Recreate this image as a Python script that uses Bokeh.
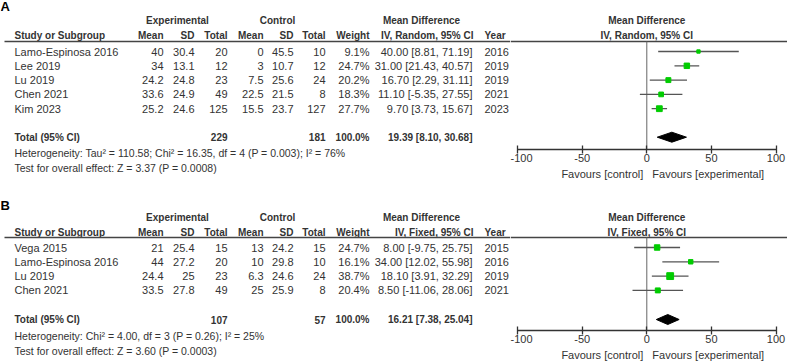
from bokeh.plotting import figure
from bokeh.models import ColumnDataSource, Range1d, LinearAxis, FixedTicker
from bokeh.layouts import column, row
from bokeh.embed import file_html
from bokeh.resources import INLINE
from bokeh.core.properties import value

# ---------------- Panel A data ----------------
studies_a = ["Lamo-Espinosa 2016", "Lee 2019", "Lu 2019", "Chen 2021", "Kim 2023"]
exp_mean_a = [40, 34, 24.2, 33.6, 25.2]
exp_sd_a = [30.4, 13.1, 24.8, 24.9, 24.6]
exp_n_a = [20, 12, 23, 49, 125]
ctl_mean_a = [0, 3, 7.5, 22.5, 15.5]
ctl_sd_a = [45.5, 10.7, 25.6, 21.5, 23.7]
ctl_n_a = [10, 12, 24, 8, 127]
weight_a = [9.1, 24.7, 20.2, 18.3, 27.7]
md_a = [40.00, 31.00, 16.70, 11.10, 9.70]
lo_a = [8.81, 21.43, 2.29, -5.35, 3.73]
hi_a = [71.19, 40.57, 31.11, 27.55, 15.67]
year_a = [2016, 2019, 2019, 2021, 2023]
total_exp_n_a = 229
total_ctl_n_a = 181
total_weight_a = 100.0
total_md_a = [8.10, 19.39, 30.68]  # lower, estimate, upper
method_a = "IV, Random, 95% CI"
het_a = "Heterogeneity: Tau\u00b2 = 110.58; Chi\u00b2 = 16.35, df = 4 (P = 0.003); I\u00b2 = 76%"
test_a = "Test for overall effect: Z = 3.37 (P = 0.0008)"

# ---------------- Panel B data ----------------
studies_b = ["Vega 2015", "Lamo-Espinosa 2016", "Lu 2019", "Chen 2021"]
exp_mean_b = [21, 44, 24.4, 33.5]
exp_sd_b = [25.4, 27.2, 25, 27.8]
exp_n_b = [15, 20, 23, 49]
ctl_mean_b = [13, 10, 6.3, 25]
ctl_sd_b = [24.2, 29.8, 24.6, 25.9]
ctl_n_b = [15, 10, 24, 8]
weight_b = [24.7, 16.1, 38.7, 20.4]
md_b = [8.00, 34.00, 18.10, 8.50]
lo_b = [-9.75, 12.02, 3.91, -11.06]
hi_b = [25.75, 55.98, 32.29, 28.06]
year_b = [2015, 2016, 2019, 2021]
total_exp_n_b = 107
total_ctl_n_b = 57
total_weight_b = 100.0
total_md_b = [7.38, 16.21, 25.04]
method_b = "IV, Fixed, 95% CI"
het_b = "Heterogeneity: Chi\u00b2 = 4.00, df = 3 (P = 0.26); I\u00b2 = 25%"
test_b = "Test for overall effect: Z = 3.60 (P = 0.0003)"

axis_ticks = [-100, -50, 0, 50, 100]
axis_tick_labels = ["-100", "-50", "0", "50", "100"]
fav_left = "Favours [control]"
fav_right = "Favours [experimental]"

# ---------------- layout constants (pixels) ----------------
TOTAL_W = 787
SPLIT = 510          # table figure | forest figure
ZERO_PX = 646.3      # position of MD = 0
UNIT_PX = 1.292      # pixels per MD unit
ROW_PX = 14.3
FONT_NAME = "Liberation Sans"
FONT = value(FONT_NAME)
FS = "11px"
FS_B = "10px"
FS_S = "10.5px"
TXT = "#333333"
GREEN = "#00cc00"


def ux(px):
    return (px - ZERO_PX) / UNIT_PX


def fmt(v):
    return f"{v:g}"


def blank(p):
    p.min_border_left = 0
    p.min_border_right = 0
    p.min_border_top = 0
    p.min_border_bottom = 0
    p.outline_line_color = None
    p.background_fill_color = "white"
    p.border_fill_color = "white"
    p.xgrid.visible = False
    p.ygrid.visible = False


def make_panel(letter, studies, e_m, e_sd, e_n, c_m, c_sd, c_n, w, md, lo, hi, yr_, tot_en, tot_cn,
               tot_w, tot_md, method, het, test, L):
    top, row0, axis_y, bottom = L["top"], L["row0"], L["axis"], L["bottom"]

    def yr(px):
        return (px - row0) / ROW_PX

    n = len(studies)
    rows = list(range(n))
    tot_row = yr(L["total"])
    line_y = yr(L["line"])
    gh = yr(L["group"])
    ch = yr(L["colhdr"])

    # ---------- left: table ----------
    t = figure(width=SPLIT, height=round(bottom - top), output_backend="svg", toolbar_location=None,
               x_axis_type=None, y_axis_type=None,
               x_range=Range1d(0, SPLIT), y_range=Range1d(yr(bottom), yr(top)))
    blank(t)

    def col_text(fig, x, ys, texts, align="right", bold=False, size=None, color=TXT):
        src = ColumnDataSource(dict(x=[x] * len(ys), y=ys, t=texts))
        fig.text(x="x", y="y", text="t", source=src, text_align=align, text_baseline="middle",
                 text_font=FONT, text_font_size=size or (FS_B if bold else FS), text_color=color,
                 text_font_style="bold" if bold else "normal")

    col_text(t, 0, [yr(L["letter"])], [letter], "left", True, "13px", "black")
    col_text(t, 177, [gh], ["Experimental"], "center", True)
    col_text(t, 277, [gh], ["Control"], "center", True)
    col_text(t, 421, [gh], ["Mean Difference"], "center", True)
    col_text(t, 14, [ch], ["Study or Subgroup"], "left", True)
    for xr, s in [(163, "Mean"), (194, "SD"), (227, "Total"), (263, "Mean"), (293, "SD"),
                  (325, "Total"), (369, "Weight"), (473, method)]:
        col_text(t, xr, [ch], [s], "right", True)
    col_text(t, 484, [ch], ["Year"], "left", True)
    t.segment(x0=[4], x1=[SPLIT], y0=[line_y], y1=[line_y], line_color="#444444", line_width=1.5)

    col_text(t, 14, rows, studies, "left")
    col_text(t, 163, rows, [fmt(v) for v in e_m])
    col_text(t, 194, rows, [fmt(v) for v in e_sd])
    col_text(t, 227, rows, [fmt(v) for v in e_n])
    col_text(t, 263, rows, [fmt(v) for v in c_m])
    col_text(t, 293, rows, [fmt(v) for v in c_sd])
    col_text(t, 325, rows, [fmt(v) for v in c_n])
    col_text(t, 369, rows, [f"{v:.1f}%" for v in w])
    col_text(t, 472, rows, [f"{m:.2f} [{a:.2f}, {b:.2f}]" for m, a, b in zip(md, lo, hi)])
    col_text(t, 484, rows, [str(v) for v in yr_], "left")

    col_text(t, 14, [tot_row], ["Total (95% CI)"], "left", True)
    col_text(t, 227, [tot_row], [str(tot_en)], "right", True)
    col_text(t, 325, [tot_row], [str(tot_cn)], "right", True)
    col_text(t, 369, [tot_row], [f"{tot_w:.1f}%"], "right", True)
    col_text(t, 472, [tot_row], [f"{tot_md[1]:.2f} [{tot_md[0]:.2f}, {tot_md[2]:.2f}]"], "right", True)

    col_text(t, 14, [yr(L["het"])], [het], "left", size=FS_S)
    col_text(t, 14, [yr(L["test"])], [test], "left", size=FS_S)

    # ---------- right: forest ----------
    xr_ = Range1d(ux(SPLIT), ux(TOTAL_W))
    axis_border = L["axis_border"]
    fh = round(axis_y - top) + axis_border
    f = figure(width=TOTAL_W - SPLIT, height=fh, output_backend="svg", toolbar_location=None,
               x_axis_type=None, y_axis_type=None,
               x_range=xr_, y_range=Range1d(yr(axis_y), yr(top)))
    blank(f)
    f.min_border_bottom = axis_border

    col_text(f, 0, [gh], ["Mean Difference"], "center", True)
    col_text(f, 0, [ch], [method], "center", True)
    f.segment(x0=[ux(SPLIT)], x1=[ux(TOTAL_W)], y0=[line_y], y1=[line_y],
              line_color="#444444", line_width=1.5)
    f.segment(x0=[0], x1=[0], y0=[line_y], y1=[yr(axis_y)], line_color="#666666", line_width=1)

    src = ColumnDataSource(dict(lo=lo, hi=hi, md=md, y=rows, size=[1.1 * (v ** 0.5) for v in w]))
    f.segment(x0="lo", x1="hi", y0="y", y1="y", source=src, line_color="#555555", line_width=1.3)
    f.scatter(x="md", y="y", size="size", marker="square", source=src, fill_color=GREEN,
              line_color=GREEN)
    h = 5.0 / ROW_PX
    f.patch(x=[tot_md[0], tot_md[1], tot_md[2], tot_md[1]],
            y=[tot_row, tot_row - h, tot_row, tot_row + h], fill_color="black", line_color="black")

    ax = LinearAxis(bounds=(axis_ticks[0], axis_ticks[-1]), ticker=FixedTicker(ticks=axis_ticks),
                    major_label_overrides=dict(zip(axis_ticks, axis_tick_labels)),
                    major_tick_in=4, major_tick_out=4, minor_tick_in=0, minor_tick_out=0,
                    axis_line_color="#333333", axis_line_width=1.3,
                    major_tick_line_color="#333333", major_tick_line_width=1.3,
                    major_label_text_font=FONT_NAME, major_label_text_font_size=FS,
                    major_label_text_color=TXT, major_label_standoff=0)
    f.add_layout(ax, "below")

    # ---------- favours strip ----------
    fav_h = round(bottom - top) - fh
    g = figure(width=TOTAL_W - SPLIT, height=fav_h, output_backend="svg", toolbar_location=None,
               x_axis_type=None, y_axis_type=None, x_range=xr_, y_range=Range1d(0, 1))
    blank(g)
    src_f = ColumnDataSource(dict(x=[0, 0], y=[0.5, 0.5], t=[fav_left, fav_right],
                                  a=["right", "left"], dx=[-3.5, 5.5]))
    g.text(x="x", y="y", text="t", source=src_f, text_align="a", x_offset="dx",
           text_baseline="middle", text_font=FONT, text_font_size=FS, text_color=TXT)

    return row(t, column(f, g, spacing=0), spacing=0)


LA = dict(top=0, letter=6, group=20, colhdr=35, line=41, row0=51, total=136.7, axis=149,
          het=152, test=167, bottom=180, axis_border=17)
LB = dict(top=180, letter=204.5, group=217, colhdr=232, line=237, row0=247, total=319, axis=330,
          het=335, test=350, bottom=361, axis_border=17)

pa = make_panel("A", studies_a, exp_mean_a, exp_sd_a, exp_n_a, ctl_mean_a, ctl_sd_a, ctl_n_a,
                weight_a, md_a, lo_a, hi_a, year_a, total_exp_n_a, total_ctl_n_a, total_weight_a,
                total_md_a, method_a, het_a, test_a, LA)
pb = make_panel("B", studies_b, exp_mean_b, exp_sd_b, exp_n_b, ctl_mean_b, ctl_sd_b, ctl_n_b,
                weight_b, md_b, lo_b, hi_b, year_b, total_exp_n_b, total_ctl_n_b, total_weight_b,
                total_md_b, method_b, het_b, test_b, LB)

layout = column(pa, pb, spacing=0)
open("out.html", "w").write(file_html(layout, INLINE))
